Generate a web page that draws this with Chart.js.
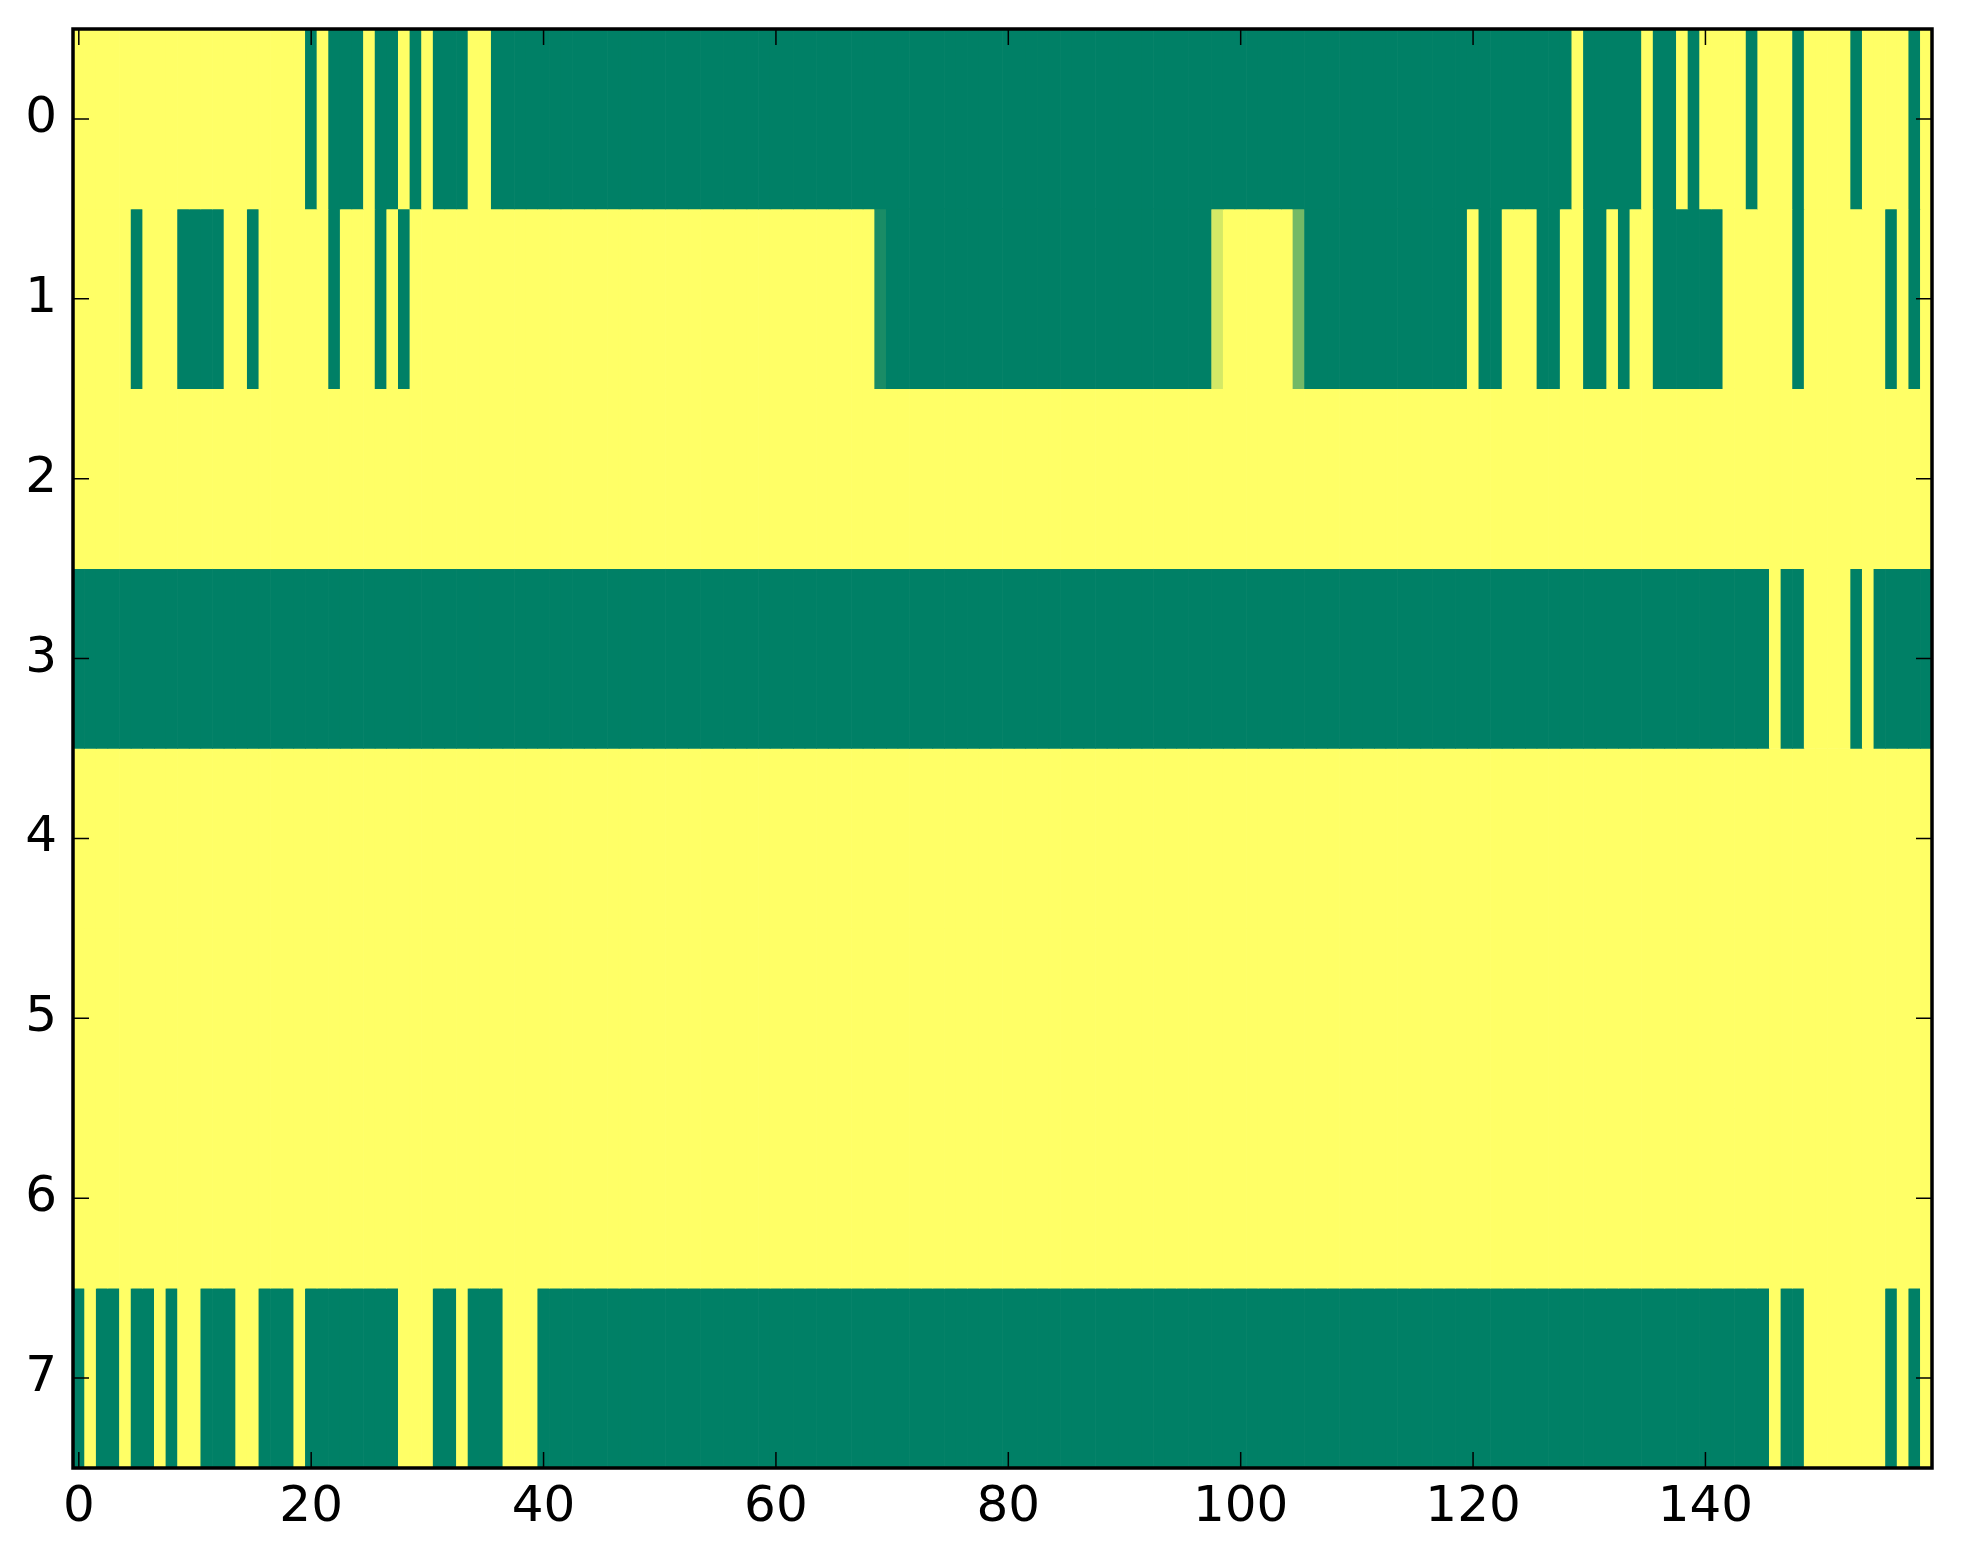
<!DOCTYPE html>
<html>
<head>
<meta charset="utf-8">
<script src="https://cdn.jsdelivr.net/npm/chart.js@4.4.0/dist/chart.umd.min.js"></script>
<style>
  html, body { margin: 0; padding: 0; background: #fff; }
  #wrap { width: 1963px; height: 1564px; }
</style>
</head>
<body>
<div id="wrap"><canvas id="heat"></canvas></div>
<script>
// one array per image row, 160 columns each, values 0..1
const row0 = [
  1,1,1,1,1,1,1,1,1,1,1,1,1,1,1,1,1,1,1,1,
  0,1,0,0,0,1,0,0,1,0,1,0,0,0,1,1,0,0,0,0,
  0,0,0,0,0,0,0,0,0,0,0,0,0,0,0,0,0,0,0,0,
  0,0,0,0,0,0,0,0,0,0,0,0,0,0,0,0,0,0,0,0,
  0,0,0,0,0,0,0,0,0,0,0,0,0,0,0,0,0,0,0,0,
  0,0,0,0,0,0,0,0,0,0,0,0,0,0,0,0,0,0,0,0,
  0,0,0,0,0,0,0,0,0,1,0,0,0,0,0,1,0,0,1,0,
  1,1,1,1,0,1,1,1,0,1,1,1,1,0,1,1,1,1,0,1
];
const row1 = [
  1,1,1,1,1,0,1,1,1,0,0,0,0,1,1,0,1,1,1,1,
  1,1,0,1,1,1,0,1,0,1,1,1,1,1,1,1,1,1,1,1,
  1,1,1,1,1,1,1,1,1,1,1,1,1,1,1,1,1,1,1,1,
  1,1,1,1,1,1,1,1,1,0.1,0,0,0,0,0,0,0,0,0,0,
  0,0,0,0,0,0,0,0,0,0,0,0,0,0,0,0,0,0,0.83,1,
  1,1,1,1,1,0.45,0,0,0,0,0,0,0,0,0,0,0,0,0,0,
  1,0,0,1,1,1,0,0,1,1,0,0,1,0,1,1,0,0,0,0,
  0,0,1,1,1,1,1,1,0,1,1,1,1,1,1,1,0,1,0,1
];
const row2 = [
  1,1,1,1,1,1,1,1,1,1,1,1,1,1,1,1,1,1,1,1,
  1,1,1,1,1,1,1,1,1,1,1,1,1,1,1,1,1,1,1,1,
  1,1,1,1,1,1,1,1,1,1,1,1,1,1,1,1,1,1,1,1,
  1,1,1,1,1,1,1,1,1,1,1,1,1,1,1,1,1,1,1,1,
  1,1,1,1,1,1,1,1,1,1,1,1,1,1,1,1,1,1,1,1,
  1,1,1,1,1,1,1,1,1,1,1,1,1,1,1,1,1,1,1,1,
  1,1,1,1,1,1,1,1,1,1,1,1,1,1,1,1,1,1,1,1,
  1,1,1,1,1,1,1,1,1,1,1,1,1,1,1,1,1,1,1,1
];
const row3 = [
  0,0,0,0,0,0,0,0,0,0,0,0,0,0,0,0,0,0,0,0,
  0,0,0,0,0,0,0,0,0,0,0,0,0,0,0,0,0,0,0,0,
  0,0,0,0,0,0,0,0,0,0,0,0,0,0,0,0,0,0,0,0,
  0,0,0,0,0,0,0,0,0,0,0,0,0,0,0,0,0,0,0,0,
  0,0,0,0,0,0,0,0,0,0,0,0,0,0,0,0,0,0,0,0,
  0,0,0,0,0,0,0,0,0,0,0,0,0,0,0,0,0,0,0,0,
  0,0,0,0,0,0,0,0,0,0,0,0,0,0,0,0,0,0,0,0,
  0,0,0,0,0,0,1,0,0,1,1,1,1,0,1,0,0,0,0,0
];
const row4 = [
  1,1,1,1,1,1,1,1,1,1,1,1,1,1,1,1,1,1,1,1,
  1,1,1,1,1,1,1,1,1,1,1,1,1,1,1,1,1,1,1,1,
  1,1,1,1,1,1,1,1,1,1,1,1,1,1,1,1,1,1,1,1,
  1,1,1,1,1,1,1,1,1,1,1,1,1,1,1,1,1,1,1,1,
  1,1,1,1,1,1,1,1,1,1,1,1,1,1,1,1,1,1,1,1,
  1,1,1,1,1,1,1,1,1,1,1,1,1,1,1,1,1,1,1,1,
  1,1,1,1,1,1,1,1,1,1,1,1,1,1,1,1,1,1,1,1,
  1,1,1,1,1,1,1,1,1,1,1,1,1,1,1,1,1,1,1,1
];
const row5 = [
  1,1,1,1,1,1,1,1,1,1,1,1,1,1,1,1,1,1,1,1,
  1,1,1,1,1,1,1,1,1,1,1,1,1,1,1,1,1,1,1,1,
  1,1,1,1,1,1,1,1,1,1,1,1,1,1,1,1,1,1,1,1,
  1,1,1,1,1,1,1,1,1,1,1,1,1,1,1,1,1,1,1,1,
  1,1,1,1,1,1,1,1,1,1,1,1,1,1,1,1,1,1,1,1,
  1,1,1,1,1,1,1,1,1,1,1,1,1,1,1,1,1,1,1,1,
  1,1,1,1,1,1,1,1,1,1,1,1,1,1,1,1,1,1,1,1,
  1,1,1,1,1,1,1,1,1,1,1,1,1,1,1,1,1,1,1,1
];
const row6 = [
  1,1,1,1,1,1,1,1,1,1,1,1,1,1,1,1,1,1,1,1,
  1,1,1,1,1,1,1,1,1,1,1,1,1,1,1,1,1,1,1,1,
  1,1,1,1,1,1,1,1,1,1,1,1,1,1,1,1,1,1,1,1,
  1,1,1,1,1,1,1,1,1,1,1,1,1,1,1,1,1,1,1,1,
  1,1,1,1,1,1,1,1,1,1,1,1,1,1,1,1,1,1,1,1,
  1,1,1,1,1,1,1,1,1,1,1,1,1,1,1,1,1,1,1,1,
  1,1,1,1,1,1,1,1,1,1,1,1,1,1,1,1,1,1,1,1,
  1,1,1,1,1,1,1,1,1,1,1,1,1,1,1,1,1,1,1,1
];
const row7 = [
  0,1,0,0,1,0,0,1,0,1,1,0,0,0,1,1,0,0,0,1,
  0,0,0,0,0,0,0,0,1,1,1,0,0,1,0,0,0,1,1,1,
  0,0,0,0,0,0,0,0,0,0,0,0,0,0,0,0,0,0,0,0,
  0,0,0,0,0,0,0,0,0,0,0,0,0,0,0,0,0,0,0,0,
  0,0,0,0,0,0,0,0,0,0,0,0,0,0,0,0,0,0,0,0,
  0,0,0,0,0,0,0,0,0,0,0,0,0,0,0,0,0,0,0,0,
  0,0,0,0,0,0,0,0,0,0,0,0,0,0,0,0,0,0,0,0,
  0,0,0,0,0,0,1,0,0,1,1,1,1,1,1,1,0,1,0,1
];
const rows = [row0, row1, row2, row3, row4, row5, row6, row7];

const xTicks = [0, 20, 40, 60, 80, 100, 120, 140];
const yTicks = [0, 1, 2, 3, 4, 5, 6, 7];

// matplotlib "summer" colormap
function summer(v) {
  let r = Math.round(255 * v);
  let g = Math.round(255 * (0.5 + v / 2));
  return 'rgb(' + r + ',' + g + ',102)';
}

let datasets = rows.map(function(vals, r) {
  return {
    data: vals.map(function(v, c) { return { x: c, y: [r - 0.5, r + 0.5] }; }),
    backgroundColor: vals.map(summer),
    borderWidth: 0,
    barPercentage: 1,
    categoryPercentage: 1,
    grouped: false
  };
});

// frame + inward ticks on all four sides, like the classic matplotlib style
const frame = {
  id: 'frame',
  afterDatasetsDraw: function(chart) {
    let ctx = chart.ctx;
    let a = chart.chartArea;
    let xs = chart.scales.x;
    let ys = chart.scales.y;
    let len = 16;
    ctx.save();
    ctx.strokeStyle = '#000';
    ctx.lineWidth = 1.5;
    ctx.beginPath();
    xTicks.forEach(function(t) {
      let px = xs.getPixelForValue(t);
      ctx.moveTo(px, a.bottom); ctx.lineTo(px, a.bottom - len);
      ctx.moveTo(px, a.top); ctx.lineTo(px, a.top + len);
    });
    yTicks.forEach(function(t) {
      let py = ys.getPixelForValue(t);
      ctx.moveTo(a.left, py); ctx.lineTo(a.left + len, py);
      ctx.moveTo(a.right, py); ctx.lineTo(a.right - len, py);
    });
    ctx.stroke();
    ctx.lineWidth = 3.5;
    ctx.strokeRect(a.left, a.top, a.right - a.left, a.bottom - a.top);
    ctx.restore();
  }
};

new Chart(document.getElementById('heat'), {
  type: 'bar',
  data: { datasets: datasets },
  options: {
    responsive: true,
    maintainAspectRatio: false,
    animation: false,
    layout: { padding: { left: 0, top: 29, right: 31, bottom: 0 } },
    plugins: { legend: { display: false }, tooltip: { enabled: false } },
    scales: {
      x: {
        type: 'linear',
        offset: false,
        min: -0.5,
        max: 159.5,
        afterBuildTicks: function(scale) {
          scale.ticks = xTicks.map(function(v) { return { value: v }; });
        },
        afterFit: function(scale) {
          scale.height = 96;
          scale.paddingLeft = 0;
          scale.paddingRight = 0;
        },
        grid: { display: false, drawTicks: false },
        border: { display: false },
        ticks: {
          padding: 10,
          color: '#000',
          font: { family: 'DejaVu Sans', size: 50 },
          maxRotation: 0,
          autoSkip: false
        }
      },
      y: {
        type: 'linear',
        min: -0.5,
        max: 7.5,
        reverse: true,
        afterBuildTicks: function(scale) {
          scale.ticks = yTicks.map(function(v) { return { value: v }; });
        },
        afterFit: function(scale) {
          scale.width = 73;
          scale.paddingTop = 0;
          scale.paddingBottom = 0;
        },
        grid: { display: false, drawTicks: false },
        border: { display: false },
        ticks: {
          padding: 16,
          color: '#000',
          font: { family: 'DejaVu Sans', size: 50 },
          autoSkip: false
        }
      }
    }
  },
  plugins: [frame]
});
</script>
</body>
</html>
